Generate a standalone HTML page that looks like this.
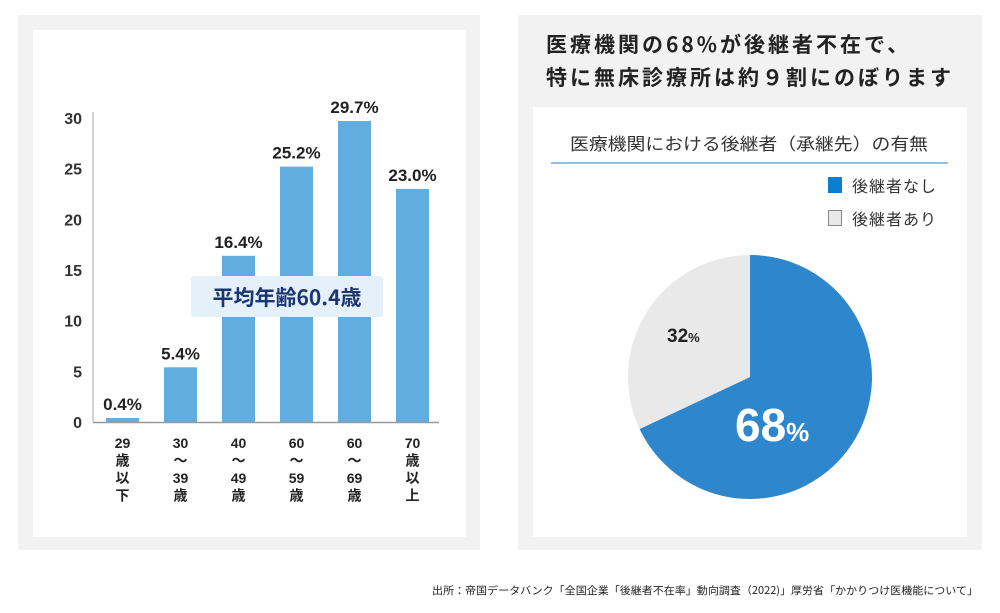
<!DOCTYPE html>
<html><head><meta charset="utf-8">
<style>
html,body{margin:0;padding:0;background:#fff;}
body{width:1000px;height:613px;position:relative;overflow:hidden;font-family:"Liberation Sans","Noto Sans CJK JP",sans-serif;}
.abs{position:absolute;}
</style></head>
<body>
<div class="abs" style="left:18px;top:15px;width:462px;height:535px;background:#f2f2f2;"></div>
<div class="abs" style="left:33px;top:30px;width:433px;height:507px;background:#fff;"></div>
<div class="abs" style="left:518px;top:15px;width:464px;height:535px;background:#f2f2f2;"></div>
<div class="abs" style="left:533px;top:107px;width:434px;height:430px;background:#fff;"></div>
<div class="abs" style="left:546px;top:28px;font-size:21px;font-weight:bold;color:#222;line-height:33px;letter-spacing:3px;font-family:'Noto Sans CJK JP',sans-serif;white-space:nowrap;">医療機関の68%が後継者不在で、<br>特に無床診療所は約９割にのぼります</div>

<svg class="abs" style="left:0;top:0" width="1000" height="613" xmlns="http://www.w3.org/2000/svg" font-family="'Liberation Sans','Noto Sans CJK JP',sans-serif">
<g id="bar-chart"></g>
<g id="pie-chart"></g>
<text x="749" y="150" font-size="17" fill="#333" text-anchor="middle" textLength="358" lengthAdjust="spacingAndGlyphs" font-family="'Noto Sans CJK JP',sans-serif">医療機関における後継者（承継先）の有無</text>
<line x1="551" y1="163" x2="948" y2="163" stroke="#1f7ccc" stroke-width="1"/>
<rect x="828" y="177" width="14" height="16" fill="#0a7fd0"/>
<text x="852" y="192" font-size="16" fill="#333" font-family="'Noto Sans CJK JP',sans-serif" letter-spacing="1">後継者なし</text>
<rect x="828.5" y="210.5" width="13" height="15" fill="#e9e9e9" stroke="#888"/>
<text x="852" y="225" font-size="16" fill="#333" font-family="'Noto Sans CJK JP',sans-serif" letter-spacing="1">後継者あり</text>
<text x="978" y="594" font-size="10.5" fill="#222" text-anchor="end" textLength="546" lengthAdjust="spacingAndGlyphs" font-family="'Noto Sans CJK JP',sans-serif">出所：帝国データバンク「全国企業「後継者不在率」動向調査（2022)」厚労省「かかりつけ医機能について」</text>
</svg>

<script>
const categories = [["29","歳","以","下"],["30","～","39","歳"],["40","～","49","歳"],["60","～","59","歳"],["60","～","69","歳"],["70","歳","以","上"]];
const values = [0.4, 5.4, 16.4, 25.2, 29.7, 23.0];
const valueLabels = ["0.4%","5.4%","16.4%","25.2%","29.7%","23.0%"];
const yTicks = [0,5,10,15,20,25,30];
const pieValues = [68, 32];
const pieLabels = ["68%","32%"];

const NS="http://www.w3.org/2000/svg";
function mk(tag, attrs, parent){const e=document.createElementNS(NS,tag);for(const k in attrs)e.setAttribute(k,attrs[k]);parent.appendChild(e);return e;}
const bar=document.getElementById('bar-chart');
const y0=422, y30=118, xAxis0=93, xAxis1=439;
function yS(v){return y0-(v/30)*(y0-y30);}
function xC(i){return 122.5+i*58;}
yTicks.forEach(t=>{
  const tx=mk('text',{x:82,y:yS(t)+6,'font-size':16,'font-weight':'bold',fill:'#333','text-anchor':'end'},bar);
  
  
  tx.textContent=t;
});
values.forEach((v,i)=>{
  const r=mk('rect',{x:xC(i)-16.5,y:yS(v),width:33,height:y0-yS(v),fill:'#62ade0'},bar);
  
  
  const t=mk('text',{x:xC(i),y:yS(v)-8,'font-size':17,'font-weight':'bold',fill:'#222','text-anchor':'middle'},bar);
  
  
  t.textContent=valueLabels[i];
  categories[i].forEach((s,j)=>{
    const c=mk('text',{x:xC(i),y:448+j*17.5,'font-size':14,'font-weight':'bold',fill:'#222','text-anchor':'middle'},bar);
    
    
    c.textContent=s;
  });
});
const ya=mk('line',{x1:xAxis0,y1:y30-6,x2:xAxis0,y2:y0,stroke:'#aaa','stroke-width':1},bar);


const xa=mk('line',{x1:xAxis0,y1:y0+0.5,x2:xAxis1,y2:y0+0.5,stroke:'#999','stroke-width':1.5},bar);


const bx=mk('rect',{x:191,y:276,width:192,height:41,rx:3,fill:'#e4f0fa'},bar);


const bt=mk('text',{x:287,y:305,'font-size':21,'font-weight':'bold',fill:'#1b3672','text-anchor':'middle','font-family':"'Noto Sans CJK JP',sans-serif"},bar);


bt.textContent='平均年齢60.4歳';

const pie=document.getElementById('pie-chart');
const cx=750, cy=377, R=122;
const colors=['#2e86cd','#e9e9e9'];
const total=pieValues.reduce((a,b)=>a+b,0);
let a0=0;
pieValues.forEach((v,i)=>{
  const a1=a0+v/total*2*Math.PI;
  const p=(a)=>[cx+R*Math.sin(a), cy-R*Math.cos(a)];
  const [sx,sy]=p(a0),[ex,ey]=p(a1);
  const large=(a1-a0)>Math.PI?1:0;
  const path=mk('path',{d:`M${cx},${cy} L${sx},${sy} A${R},${R} 0 ${large} 1 ${ex},${ey} Z`,fill:colors[i]},pie);
  
  
  a0=a1;
});
const l1=mk('text',{x:735,y:441,'font-size':46,'font-weight':'bold',fill:'#fff'},pie);


l1.innerHTML=pieLabels[0].replace('%','')+'<tspan font-size="26">%</tspan>';
const l2=mk('text',{x:667,y:342,'font-size':19,'font-weight':'bold',fill:'#222'},pie);


l2.innerHTML=pieLabels[1].replace('%','')+'<tspan font-size="13">%</tspan>';
</script>
</body></html>
